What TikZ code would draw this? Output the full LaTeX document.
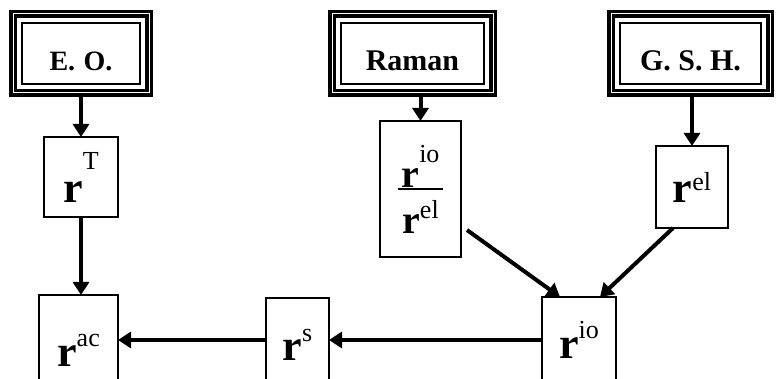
\documentclass[tikz,border=0pt]{standalone}
\usepackage{fontspec}
\setmainfont{Liberation Serif}
\usetikzlibrary{arrows.meta,fit}

% bold r with a raised index: size of r, raise, index
\newcommand{\rsym}[3]{{\fontsize{#1}{#1}\selectfont\bfseries r}\raisebox{#2}{\fontsize{26pt}{26pt}\selectfont #3}}
% stacked ratio with a bar
\newcommand{\rfrac}[2]{\vbox{\offinterlineskip\halign{\hfil\kern4pt##\kern4pt\hfil\cr #1\cr\noalign{\kern1.2pt\hrule height1.6pt\kern10pt}#2\cr}}}

\begin{document}
\begin{tikzpicture}[
    x=1pt, y=1pt,
    src/.style={draw, line width=2.6pt, inner sep=0pt, outer sep=0pt, minimum height=61pt,
      text height=34pt, text depth=0pt, font=\fontsize{30pt}{30pt}\selectfont\bfseries},
    frm/.style={draw, line width=3.2pt, double=white, double distance=1pt, inner sep=9pt, outer sep=3.7pt},
    qty/.style={draw, line width=2.6pt, inner sep=0pt, outer sep=0pt},
    arr/.style={-{Triangle[length=13pt,width=16pt]}, line width=4pt}
  ]
  \useasboundingbox (0,0) rectangle (777,378);
  \clip (0,0) rectangle (777,378);

  % measurements
  \node[src, minimum width=118pt, font=\fontsize{28pt}{28pt}\selectfont\bfseries] (eo) at (81,324.5) {E.\hspace{0.3em}O.};
  \node[src, minimum width=143pt] (raman) at (412.5,324.5) {Raman};
  \node[src, minimum width=141pt] (gsh) at (690.5,324.5) {G. S. H.};
  \node[frm, fit=(eo)] (eoF) {};
  \node[frm, fit=(raman)] (ramanF) {};
  \node[frm, fit=(gsh)] (gshF) {};

  % quantities
  \node[qty, minimum width=74pt, minimum height=80pt] (rT) at (81,201) {\rsym{44pt}{33pt}{T}};
  \node[qty, minimum width=81pt, minimum height=136pt] (ratio) at (420.5,189)
    {\rfrac{\rsym{40pt}{25pt}{io}}{\rsym{40pt}{15pt}{el}}};
  \node[qty, minimum width=72pt, minimum height=82pt] (rel) at (692,191) {\rsym{44pt}{12pt}{el}};
  \node[qty, minimum width=79pt, minimum height=110pt] (rac) at (78.5,28) {\rsym{44pt}{20pt}{ac}};
  \node[qty, minimum width=63pt, minimum height=94pt] (rs) at (297.5,33) {\rsym{44pt}{19pt}{s}};
  \node[qty, minimum width=74pt, minimum height=86pt] (rio) at (579,38) {\rsym{44pt}{20pt}{io}};

  \draw[arr] (eoF.south) -- (rT.north);
  \draw[arr] (ramanF.south -| ratio.north) -- (ratio.north);
  \draw[arr] (gshF.south -| rel.north) -- (rel.north);
  \draw[arr] (rT.south) -- (rT.south |- rac.north);
  \draw[arr] ([shift={(6,-41)}]ratio.east) -- ([xshift=-19]rio.north);
  \draw[arr] ([xshift=-19]rel.south) -- ([xshift=21]rio.north);
  \draw[arr] (rio.west) -- (rio.west -| rs.east);
  \draw[arr] (rs.west |- rio.west) -- (rac.east |- rio.west);
\end{tikzpicture}
\end{document}
